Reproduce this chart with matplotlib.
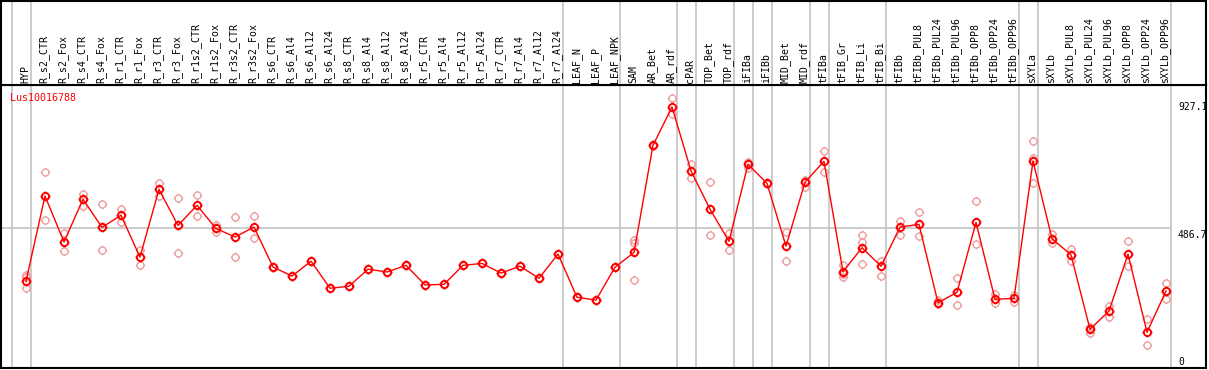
import numpy as np
import matplotlib
matplotlib.use('Agg')
import matplotlib.pyplot as plt
from matplotlib.path import Path

gene = 'Lus10016788'

samples = ['HYP', 'R_s2_CTR', 'R_s2_Fox', 'R_s4_CTR', 'R_s4_Fox', 'R_r1_CTR', 'R_r1_Fox',
           'R_r3_CTR', 'R_r3_Fox', 'R_r1s2_CTR', 'R_r1s2_Fox', 'R_r3s2_CTR', 'R_r3s2_Fox',
           'R_s6_CTR', 'R_s6_Al4', 'R_s6_Al12', 'R_s6_Al24', 'R_s8_CTR', 'R_s8_Al4',
           'R_s8_Al12', 'R_s8_Al24', 'R_r5_CTR', 'R_r5_Al4', 'R_r5_Al12', 'R_r5_Al24',
           'R_r7_CTR', 'R_r7_Al4', 'R_r7_Al12', 'R_r7_Al24', 'LEAF_N', 'LEAF_P', 'LEAF_NPK',
           'SAM', 'AR_Bet', 'AR_rdf', 'cPAR', 'TOP_Bet', 'TOP_rdf', 'iFIBa', 'iFIBb',
           'MID_Bet', 'MID_rdf', 'tFIBa', 'tFIB_Gr', 'tFIB_Li', 'tFIB_Bi', 'tFIBb',
           'tFIBb_PUL8', 'tFIBb_PUL24', 'tFIBb_PUL96', 'tFIBb_OPP8', 'tFIBb_OPP24',
           'tFIBb_OPP96', 'sXYLa', 'sXYLb', 'sXYLb_PUL8', 'sXYLb_PUL24', 'sXYLb_PUL96',
           'sXYLb_OPP8', 'sXYLb_OPP24', 'sXYLb_OPP96']

# mean expression
mean = [294, 604, 437, 592, 490, 534, 382, 628, 497, 570, 486, 455, 491,
        346, 313, 367, 269, 276, 338, 328, 352, 281, 283, 352, 359, 324, 349, 305, 393,
        236, 226, 345,
        399, 788, 927.1, 695, 556, 439, 719, 650, 422, 654, 730, 329, 416, 349,
        491, 501, 216, 254, 508, 229, 232, 731, 449, 390, 120, 186, 393, 109, 259]

# replicates
rep_a = [317, 690, 468, 611, 574, 557, 408, 650, 595, 607, 500, 526, 530,
         346, 313, 367, 269, 276, 338, 328, 352, 281, 283, 352, 359, 324, 349, 305, 393,
         236, 226, 345,
         444, 790, 958, 719, 653, 468, 728, 652, 474, 662, 766, 353, 462, 368,
         512, 545, 226, 305, 585, 248, 244, 804, 466, 411, 127, 206, 439, 157, 288]
rep_b = [271, 516, 404, 569, 407, 511, 352, 603, 396, 532, 473, 381, 450,
         346, 313, 367, 269, 276, 338, 328, 352, 281, 283, 352, 359, 324, 349, 305, 393,
         236, 226, 345,
         299, 786, 901, 670, 462, 407, 704, 648, 367, 638, 691, 311, 356, 314,
         462, 459, 212, 207, 428, 214, 220, 650, 432, 368, 107, 163, 350, 62, 229]
rep_c = {0: 309, 32: 432, 43: 321, 44: 436, 53: 741}

# group separators (after these sample indices)
sep_after = [-1, 0, 28, 31, 34, 35, 37, 38, 39, 41, 42, 45, 52, 53, 60]
y_labels = [927.1, 486.7, 0]

W, H = 1209, 370
fig = plt.figure(figsize=(W / 100, H / 100), dpi=100)

x = np.arange(len(samples))
xlim = ((1 - 26) / 19, (1206 - 26) / 19)
ylim = ((362.3 - 368) / 0.2754, (362.3 - 85) / 0.2754)

ax = fig.add_axes([1 / W, 2 / H, 1205 / W, 283 / H])
head = fig.add_axes([1 / W, 285 / H, 1205 / W, 84 / H])
for a in (ax, head):
    a.set_xlim(*xlim)
    a.set_xticks([])
    a.set_yticks([])
    for s in a.spines.values():
        s.set_linewidth(1.5)
        s.set_color('black')
ax.set_ylim(*ylim)
head.set_ylim(0, 1)

grey = '#c4c4c4'
for k in sep_after:
    ax.axvline(k + 0.24, color=grey, lw=1.2, zorder=1)
    head.axvline(k + 0.24, color=grey, lw=1.2, zorder=1)
ax.hlines(486.7, xlim[0], sep_after[-1] + 0.24, color=grey, lw=1.2, zorder=1)

# marker: circle with small ticks
circ = Path.unit_circle()
t = 1.35
ticks = Path([(0, 1), (0, t), (0, -1), (0, -t), (1, 0), (t, 0), (-1, 0), (-t, 0)],
             [Path.MOVETO, Path.LINETO] * 4)
mk = Path.make_compound_path(circ, ticks)

pink = '#eea0a0'
ax.plot(x, rep_a, ls='none', marker=mk, ms=6.8, mfc='none', mec=pink, mew=1.0, zorder=2)
ax.plot(x, rep_b, ls='none', marker=mk, ms=6.8, mfc='none', mec=pink, mew=1.0, zorder=2)
ax.plot(list(rep_c.keys()), list(rep_c.values()), ls='none', marker=mk, ms=6.8,
        mfc='none', mec=pink, mew=1.0, zorder=2)
ax.plot(x, mean, color='red', lw=1.0, marker=mk, ms=7, mfc='none', mec='red',
        mew=1.4, zorder=3)

ax.text(xlim[0] + 0.45, 960, gene, color='red', fontsize=7.2,
        family='DejaVu Sans Mono', ha='left', va='center')

xr = (1178 - 26) / 19
for v in y_labels:
    va = 'top' if v == 486.7 else 'center'
    lab = '0' if v == 0 else f'{v:.1f}'
    ax.text(xr, v - (6 if va == 'top' else 0), lab, fontsize=7,
            family='DejaVu Sans Mono', ha='left', va=va)

for i, name in enumerate(samples):
    head.text(i - 0.05, 0.025, name, rotation=90, fontsize=7.1,
              family='DejaVu Sans Mono', ha='center', va='bottom')

fig.savefig('out.png', dpi=100)
